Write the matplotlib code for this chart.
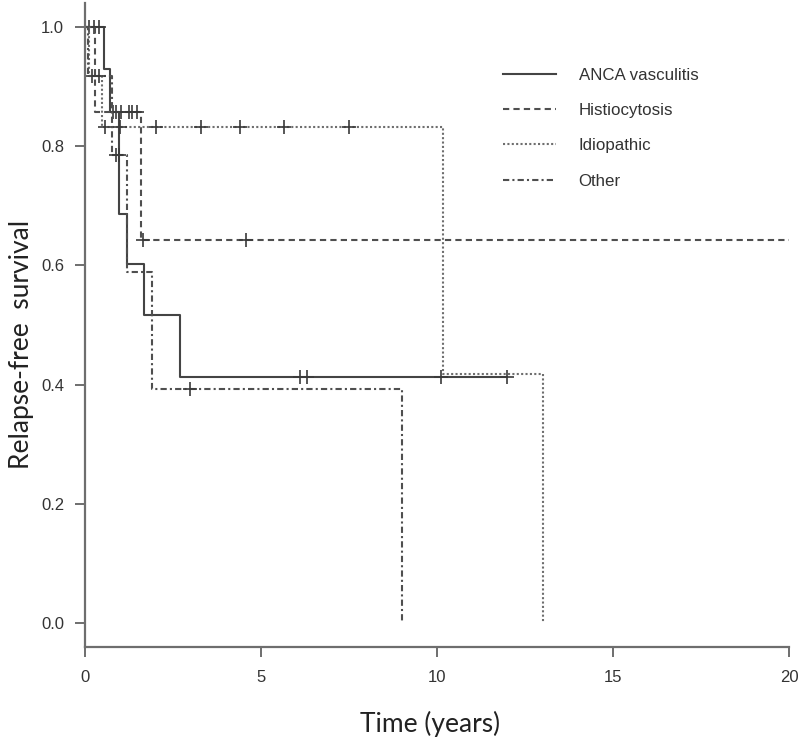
import numpy as np
import matplotlib
matplotlib.use("Agg")
import matplotlib.pyplot as plt
from matplotlib.lines import Line2D

# ---- data ----
groups = ["ANCA vasculitis", "Histiocytosis", "Idiopathic", "Other"]

anca_t = [0, 0.54, 0.71, 0.97, 1.19, 1.68, 2.70, 12.0]
anca_s = [1.0, 0.929, 0.857, 0.686, 0.602, 0.517, 0.413, 0.413]
anca_cens = [0.11, 0.26, 0.40, 0.80, 0.88, 6.12, 6.30, 10.1, 12.0]

hist_t = [0, 0.28, 1.59, 20.0]
hist_s = [1.0, 0.857, 0.643, 0.643]
hist_cens = [1.02, 1.26, 1.34, 1.48, 1.65, 4.57]

idio_t = [0, 0.11, 0.48, 10.17, 13.0]
idio_s = [1.0, 0.917, 0.833, 0.417, 0.0]
idio_cens = [0.20, 0.57, 1.00, 2.02, 3.30, 4.40, 5.65, 7.50]

other_t = [0, 0.08, 0.77, 1.19, 1.90, 9.0]
other_s = [1.0, 0.917, 0.786, 0.589, 0.393, 0.0]
other_cens = [0.40, 0.88, 0.97, 2.98]

x_ticks = [0, 5, 10, 15, 20]
y_ticks = [0.0, 0.2, 0.4, 0.6, 0.8, 1.0]

series = [
    (anca_t, anca_s, anca_cens, "-", "#444444"),
    (hist_t, hist_s, hist_cens, (0, (3, 2)), "#4f4f4f"),
    (idio_t, idio_s, idio_cens, (0, (1, 1.1)), "#6e6e6e"),
    (other_t, other_s, other_cens, (0, (3, 1.5, 1, 1.5)), "#4f4f4f"),
]

fig = plt.figure(figsize=(8, 7.4), dpi=100)
W, H = 800, 740
x0, x1 = 85, 789
ylo, yhi = -0.04, 1.04
py1, py0 = 27, 623  # pixel rows of 1.0 and 0.0
ppu = py0 - py1
top_px = py1 - (yhi - 1.0) * ppu
bot_px = py0 + (0 - ylo) * ppu
ax = fig.add_axes([x0 / W, 1 - bot_px / H, (x1 - x0) / W, (bot_px - top_px) / H])

handles = []
for (t, s, cens, ls, col), name in zip(series, groups):
    ax.step(t, s, where="post", linestyle=ls, color=col, lw=1.5)
    t_arr = np.asarray(t)
    s_arr = np.asarray(s)
    idx = np.searchsorted(t_arr, cens, side="right") - 1
    ax.plot(cens, s_arr[idx], linestyle="none", marker="+", markersize=10,
            markeredgewidth=1.2, color="#3a3a3a")
    handles.append(Line2D([], [], linestyle=ls, color=col, lw=1.5))

ax.set_xlim(0, 20)
ax.set_ylim(ylo, yhi)
ax.set_xticks(x_ticks)
ax.set_xticklabels([str(v) for v in x_ticks])
ax.set_yticks(y_ticks)
ax.set_yticklabels([f"{v:.1f}" for v in y_ticks])

for side in ["top", "right"]:
    ax.spines[side].set_visible(False)
for side in ["left", "bottom"]:
    ax.spines[side].set_color("#6e6e6e")
    ax.spines[side].set_linewidth(1.6)

ax.tick_params(axis="both", colors="#6e6e6e", width=1.4, length=7,
               labelcolor="#333333", labelsize=12)
ax.tick_params(axis="x", pad=10)
ax.tick_params(axis="y", pad=8)
for lab in ax.get_xticklabels() + ax.get_yticklabels():
    lab.set_family("Liberation Sans")

ax.set_xlabel("Time (years)", family="Lato", fontsize=19, color="#222222")
ax.set_ylabel("Relapse-free  survival", family="Lato", fontsize=19, color="#222222")
ax.xaxis.set_label_coords(0.49, -0.10)
ax.yaxis.set_label_coords(-0.072, 0.47)

leg = ax.legend(handles, groups, loc="upper left", bbox_to_anchor=(0.594, 0.900),
                frameon=False, handlelength=3.1, handletextpad=1.35,
                labelspacing=1.2, borderaxespad=0, borderpad=0,
                prop={"family": "Liberation Sans", "size": 12.2})
for txt in leg.get_texts():
    txt.set_color("#333333")

fig.savefig("out.png", dpi=100)
